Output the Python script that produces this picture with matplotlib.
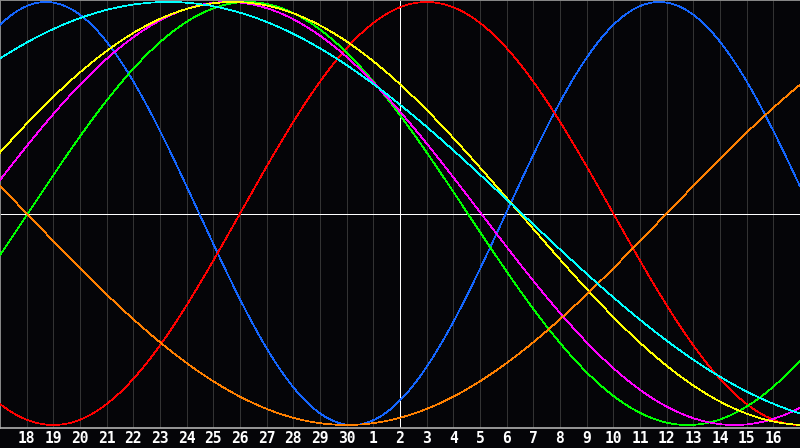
import numpy as np
import matplotlib
matplotlib.use("Agg")
import matplotlib.pyplot as plt

# ---- data ----
day_labels = [17, 18, 19, 20, 21, 22, 23, 24, 25, 26, 27, 28, 29, 30,
              1, 2, 3, 4, 5, 6, 7, 8, 9, 10, 11, 12, 13, 14, 15, 16, 17]
today_index = 15            # day "2" (white vertical line)

cycle_names   = ["physical", "emotional", "intellectual", "intuitive",
                 "aesthetic", "awareness", "spiritual"]
cycle_periods = [23, 28, 33, 38, 43, 48, 53]               # days
cycle_peaks   = [1.72, 16.0, 9.29, 8.54, 8.75, 37.0, 6.31]  # day index of a maximum
cycle_colors  = ["#1466ff", "#ff0000", "#00ff00", "#ff00ff",
                 "#ffff00", "#ff8000", "#00ffff"]

W, H, DPI = 800, 448, 100
fig = plt.figure(figsize=(W / DPI, H / DPI), dpi=DPI, facecolor="#050508")
plot_h = 428
ax = fig.add_axes([0, (H - plot_h) / H, 1, plot_h / H])
ax.set_facecolor("#050508")

n_days = len(day_labels) - 1
ax.set_xlim(0, n_days)
center_px = 428 - 213.5
unit_px = 211.5
ax.set_ylim(-center_px / unit_px, (plot_h - center_px) / unit_px)

# vertical day grid
for i in range(1, n_days):
    ax.axvline(i, color="#333333", lw=0.6, antialiased=False, zorder=1)

# zero line and today line
ax.axhline(0, color="#ffffff", lw=0.7, antialiased=False, zorder=2)
ax.axvline(today_index, color="#ffffff", lw=0.7, antialiased=False, zorder=2)

t = np.linspace(0, n_days, 2401)
for name, per, pk, col in zip(cycle_names, cycle_periods, cycle_peaks, cycle_colors):
    ax.plot(t, np.cos(2 * np.pi * (t - pk) / per), color=col, lw=0.5,
            antialiased=False, zorder=3, label=name)

for s in ["left", "right", "top", "bottom"]:
    ax.spines[s].set_color("#8a8a8a")
    ax.spines[s].set_linewidth(0.7)
ax.spines["bottom"].set_color("#b0b0b0")
ax.spines["bottom"].set_linewidth(1.2)

ax.set_xticks([])
ax.set_yticks([])

for i in range(1, n_days):
    fig.text(i / n_days, 1 - 438.5 / H, str(day_labels[i]), color="white",
             fontsize=10.5, fontweight="bold", family="DejaVu Sans Mono",
             ha="center", va="center")

fig.savefig("out.png", dpi=DPI, facecolor=fig.get_facecolor())
